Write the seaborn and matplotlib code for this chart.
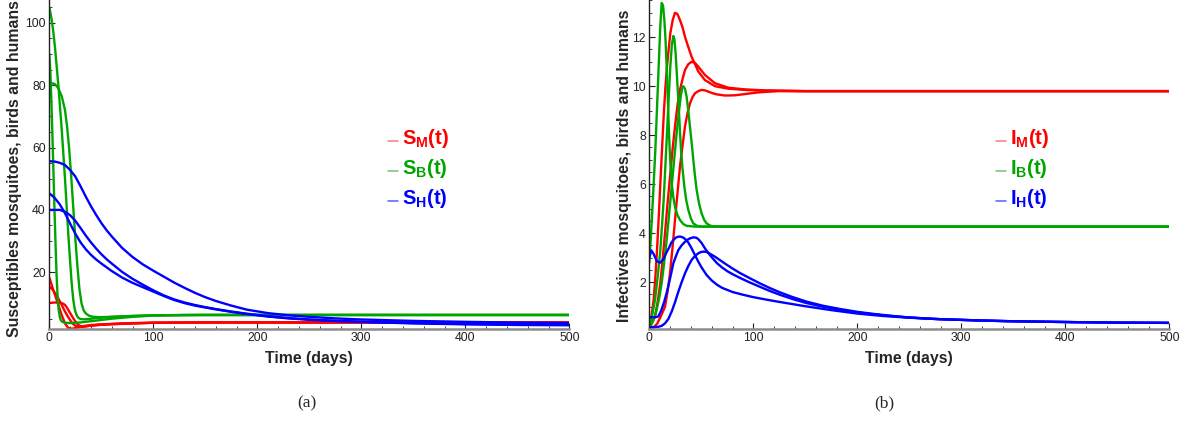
import matplotlib
matplotlib.use("Agg")
import matplotlib.pyplot as plt
import seaborn as sns
import pandas as pd
from matplotlib.ticker import MultipleLocator

# ---------------- Panel (a): susceptibles ----------------
SM1_t = [0, 2.3, 5.5, 8.7, 11.9, 15.1, 18.3, 21.5, 24.7, 28, 31.1, 35, 40.7, 50, 60, 70, 80, 100, 120, 150, 200, 300, 400, 500]
SM1_y = [18.3, 15.9, 12.7, 9.5, 6.3, 3.6, 2.1, 1.9, 2.05, 2.35, 2.6, 2.85, 3.1, 3.3, 3.45, 3.6, 3.7, 3.8, 3.85, 3.9, 3.9, 3.9, 3.9, 3.9]
SM2_t = [0, 3, 5.5, 8, 10.3, 12.7, 15.1, 17.5, 19.9, 22.3, 24.7, 27.9, 31, 34.3, 40, 47.1, 60, 72.8, 85, 100, 120, 150, 500]
SM2_y = [15.4, 14.5, 13.3, 12.0, 10.6, 9.0, 7.4, 6.0, 4.7, 3.6, 2.9, 2.45, 2.45, 2.6, 2.85, 3.1, 3.35, 3.5, 3.65, 3.8, 3.85, 3.9, 3.9]
SM3_t = [0, 3, 5.5, 8.7, 11.9, 13.5, 15.1, 16.7, 18.3, 19.9, 21.5, 23.1, 24.7, 26.3, 27.9, 31.1, 34.3, 37.5, 47.1, 60, 72.8, 85, 100, 120, 150, 500]
SM3_y = [10.1, 10.25, 10.3, 10.25, 10.1, 9.9, 9.5, 8.8, 7.9, 7.0, 6.1, 5.2, 4.4, 3.7, 3.1, 2.6, 2.65, 2.8, 3.1, 3.35, 3.5, 3.65, 3.8, 3.85, 3.9, 3.9]

SB1_t = [0, 2.3, 3.9, 5.5, 7.1, 8.7, 10.3, 11.9, 13.5, 15.1, 16.7, 18.3, 19.9, 21.5, 23.1, 24.7,
         26.3, 27.9, 30, 33, 38, 45, 60, 80, 100, 150, 500]
SB1_y = [105, 101, 97, 92, 86, 80, 73, 66, 58, 50, 41, 32, 24, 16.5, 11, 7.8,
         6.2, 5.4, 5.0, 4.9, 5.0, 5.3, 5.7, 6.0, 6.2, 6.3, 6.3]
SB2_t = [0, 1, 2, 3, 4, 5, 6, 7, 8, 9, 10, 11, 12.5, 15, 20, 30, 45, 60, 80, 100, 130, 500]
SB2_y = [90, 84, 75, 64, 52, 40, 29, 19, 12, 8, 5.8, 4.7, 4.1, 3.8, 3.7, 3.9, 4.5, 5.1, 5.7, 6.1, 6.3, 6.3]
SB3_t = [0, 3, 5.5, 8.7, 11.9, 15.1, 17, 19, 21, 23, 25, 27, 29, 31, 33, 35, 38, 42, 50, 70, 100, 150, 500]
SB3_y = [80.6, 80.6, 80.3, 79, 76.5, 72, 67, 60, 51, 41, 31, 22, 14.5, 10, 7.8, 6.8, 6.1, 5.7, 5.6, 5.8, 6.2, 6.3, 6.3]

SH1_t = [0, 5, 10, 15, 20, 25, 30, 35, 40, 45, 50, 55, 60, 70, 80, 90, 100, 110, 120, 130, 140, 150,
         160, 175, 190, 210, 230, 250, 275, 300, 350, 400, 450, 500]
SH1_y = [55.6, 55.5, 55.1, 54.4, 52.8, 50.7, 47.6, 44.3, 41.2, 38.4, 35.8, 33.5, 31.5, 27.8, 24.9, 22.5,
         20.5, 18.6, 16.7, 15.0, 13.4, 12.0, 10.8, 9.3, 8.0, 6.9, 6.2, 5.7, 5.2, 4.85, 4.4, 4.1, 3.85, 3.7]
SH2_t = [0, 5, 10, 15, 20, 25, 30, 35, 40, 45, 50, 55, 60, 70, 80, 90, 100, 110, 120, 130, 140, 150,
         160, 175, 190, 210, 230, 250, 275, 300, 350, 400, 450, 500]
SH2_y = [45.3, 43.9, 41.8, 39.0, 35.6, 32.4, 29.6, 27.4, 25.6, 24.1, 22.8, 21.6, 20.4, 18.3, 16.6, 15.2,
         13.8, 12.4, 11.1, 10.1, 9.3, 8.7, 8.1, 7.3, 6.6, 5.8, 5.2, 4.75, 4.35, 4.05, 3.6, 3.3, 3.1, 3.0]
SH3_t = [0, 5, 10, 15, 20, 25, 30, 35, 40, 45, 50, 55, 60, 70, 80, 90, 100, 110, 120, 130, 140, 150,
         160, 175, 190, 210, 230, 250, 275, 300, 350, 400, 450, 500]
SH3_y = [40.0, 40.0, 40.0, 39.4, 38.3, 36.5, 34.2, 31.8, 29.6, 27.6, 25.8, 24.2, 22.8, 20.1, 17.9, 16.0,
         14.2, 12.6, 11.3, 10.3, 9.5, 8.8, 8.2, 7.4, 6.7, 5.9, 5.3, 4.85, 4.45, 4.15, 3.7, 3.4, 3.25, 3.2]

# ---------------- Panel (b): infectives ----------------
IM1_t = [0, 2, 4.2, 5.8, 7.4, 9, 10.6, 12.2, 13.8, 15.4, 17, 18.6, 20.2, 22.5, 24.7, 27, 29.5, 32,
         34.3, 37.5, 40.7, 44, 47.1, 53.5, 63.2, 76, 92, 111, 150, 500]
IM1_y = [0.12, 0.6, 1.28, 2.2, 3.3, 4.6, 6.0, 7.4, 8.76, 9.9, 10.8, 11.5, 12.16, 12.7, 13.0, 12.95,
         12.7, 12.4, 12.02, 11.6, 11.2, 10.9, 10.6, 10.25, 10.0, 9.9, 9.85, 9.82, 9.8, 9.8]
IM2_t = [0, 5.5, 8, 10.6, 13, 15.1, 17.5, 19.9, 22.3, 24.7, 27, 29.5, 32, 34.3, 37.5, 40.7, 44, 47.1,
         53.5, 63.2, 76, 92, 111, 150, 500]
IM2_y = [0.1, 0.6, 1.2, 1.96, 3.0, 4.0, 5.2, 6.3, 7.4, 8.35, 9.2, 9.85, 10.3, 10.66, 10.9, 11.0, 10.95,
         10.8, 10.46, 10.12, 9.94, 9.87, 9.83, 9.8, 9.8]
IM3_t = [0, 4, 7.8, 11, 15.1, 17.5, 19.9, 22.3, 24.7, 27, 29.5, 32, 34.3, 36.7, 39.1, 41.5, 43.9, 47,
         50.3, 53.5, 56.7, 60.6, 64.6, 72.8, 82.4, 92, 105, 124, 160, 500]
IM3_y = [0.1, 0.15, 0.32, 0.6, 1.0, 1.6, 2.36, 3.4, 4.54, 5.6, 6.72, 7.6, 8.35, 8.9, 9.3, 9.55, 9.71,
         9.8, 9.85, 9.83, 9.78, 9.72, 9.67, 9.62, 9.63, 9.68, 9.75, 9.8, 9.8, 9.8]

IB1_t = [0, 1.3, 2.6, 4.2, 5.8, 7.4, 9.0, 10.5, 11.9, 13.2, 14.5, 15.6, 16.7, 17.8, 18.9, 20.2, 21.5,
         23, 24.7, 27, 29.5, 32.5, 35.9, 43.9, 60, 500]
IB1_y = [2.8, 3.7, 4.7, 6.0, 7.4, 9.1, 10.8, 12.4, 13.4, 13.3, 12.7, 11.9, 10.8, 9.5, 8.1, 6.9, 6.04,
         5.5, 5.08, 4.75, 4.54, 4.38, 4.3, 4.27, 4.27, 4.27]
IB2_t = [0, 3, 5.5, 8, 10.6, 12.2, 13.8, 15.4, 17, 18.6, 20.2, 21.7, 23.1, 24.2, 25.3, 26.6, 27.9,
         29.2, 30.5, 32, 33.7, 35.5, 37.5, 40, 42.3, 46, 50.3, 66, 500]
IB2_y = [0.3, 0.7, 1.28, 2.2, 3.3, 4.3, 5.36, 6.7, 8.08, 9.5, 10.8, 11.7, 12.05, 11.9, 11.34, 10.4,
         9.44, 8.4, 7.4, 6.6, 5.9, 5.35, 4.95, 4.6, 4.4, 4.3, 4.27, 4.27, 4.27]
IB3_t = [0, 4, 7.1, 9.5, 11.9, 14.3, 16.7, 19.1, 21.5, 23.9, 26.3, 28.3, 30.2, 31.5, 32.7, 34.3, 35.9,
         37.5, 39.1, 40.7, 42.3, 43.9, 45.5, 47.9, 50.3, 52.7, 55.1, 59, 63.2, 79.5, 500]
IB3_y = [0.12, 0.45, 0.87, 1.35, 1.96, 2.8, 3.72, 4.8, 5.9, 7.0, 8.08, 8.9, 9.57, 9.9, 10.0, 9.9, 9.57,
         9.0, 8.35, 7.7, 7.0, 6.35, 5.77, 5.2, 4.81, 4.55, 4.4, 4.3, 4.27, 4.27, 4.27]

IH1_t = [0, 1.9, 4.2, 7.4, 10.6, 13.8, 16.3, 18.9, 21, 23.1, 25.5, 27.9, 30.3, 32.7, 35.1, 37.5, 40.7,
         44, 47, 50, 55, 60, 65, 70, 80, 90, 100, 115, 130, 150, 175, 200, 225, 250, 280, 320, 360,
         410, 460, 500]
IH1_y = [3.0, 3.3, 3.15, 2.85, 2.8, 2.95, 3.2, 3.4, 3.6, 3.72, 3.82, 3.86, 3.86, 3.82, 3.74, 3.62, 3.38,
         3.1, 2.85, 2.62, 2.3, 2.07, 1.9, 1.77, 1.6, 1.49, 1.39, 1.27, 1.16, 1.02, 0.86, 0.72, 0.62,
         0.55, 0.49, 0.43, 0.4, 0.37, 0.35, 0.34]
IH2_t = [0, 5.5, 8.7, 11.5, 14.3, 16.6, 18.9, 21, 23.1, 25.5, 27.9, 31, 34.3, 37, 39.1, 42.3, 45, 47.1,
         50.3, 53.5, 56.7, 60, 65, 70, 75, 80, 87, 95, 106, 116, 126, 138, 151, 167, 183, 200, 215,
         230, 247, 265, 280, 310, 344, 375, 408, 450, 500]
IH2_y = [0.57, 0.57, 0.6, 0.85, 1.2, 1.55, 1.95, 2.35, 2.77, 3.05, 3.31, 3.5, 3.65, 3.74, 3.79, 3.83,
         3.82, 3.76, 3.6, 3.38, 3.2, 3.02, 2.78, 2.6, 2.45, 2.33, 2.18, 2.02, 1.82, 1.64, 1.48, 1.31,
         1.15, 1.0, 0.88, 0.77, 0.69, 0.63, 0.57, 0.52, 0.49, 0.45, 0.41, 0.39, 0.37, 0.35, 0.34]
IH3_t = [0, 8.7, 12, 15.1, 18.3, 21.5, 24.7, 27.9, 31.1, 34.3, 37.5, 40.7, 43.9, 47.1, 49.5, 52, 54.5,
         56.7, 60, 63.2, 68, 72.8, 80, 87, 95, 106, 116, 126, 138, 151, 167, 183, 200, 215, 230, 247,
         265, 280, 310, 344, 375, 408, 450, 500]
IH3_y = [0.15, 0.18, 0.22, 0.32, 0.5, 0.8, 1.18, 1.61, 2.0, 2.36, 2.66, 2.91, 3.07, 3.18, 3.23, 3.25,
         3.24, 3.2, 3.12, 3.04, 2.9, 2.76, 2.56, 2.38, 2.2, 1.96, 1.76, 1.58, 1.39, 1.21, 1.04, 0.91,
         0.79, 0.71, 0.64, 0.57, 0.52, 0.49, 0.45, 0.41, 0.39, 0.37, 0.35, 0.34]

X_TICKS = [0, 100, 200, 300, 400, 500]
LEFT_Y_TICKS = [20, 40, 60, 80, 100]
RIGHT_Y_TICKS = [2, 4, 6, 8, 10, 12]
LEFT_LEGEND = [r"$\mathbf{S_M(t)}$", r"$\mathbf{S_B(t)}$", r"$\mathbf{S_H(t)}$"]
RIGHT_LEGEND = [r"$\mathbf{I_M(t)}$", r"$\mathbf{I_B(t)}$", r"$\mathbf{I_H(t)}$"]

# ---------------- Styling ----------------
sns.set_style("white")
plt.rcParams["font.family"] = ["Liberation Sans", "DejaVu Sans"]
plt.rcParams["mathtext.fontset"] = "custom"
plt.rcParams["mathtext.bf"] = "Liberation Sans:bold"
plt.rcParams["mathtext.rm"] = "Liberation Sans"
plt.rcParams["mathtext.it"] = "Liberation Sans:italic"

RED, GREEN, BLUE = "#ff0000", "#00a600", "#0000ff"
LIGHT = ["#ff7a7a", "#74c474", "#5a5aff"]


def long_frame(curves):
    rows = []
    for name, (tt, yy) in curves.items():
        for a, b in zip(tt, yy):
            rows.append((name, a, b))
    return pd.DataFrame(rows, columns=["curve", "t", "value"])


left_curves = {"SM1": (SM1_t, SM1_y), "SM2": (SM2_t, SM2_y), "SM3": (SM3_t, SM3_y),
               "SB1": (SB1_t, SB1_y), "SB2": (SB2_t, SB2_y), "SB3": (SB3_t, SB3_y),
               "SH1": (SH1_t, SH1_y), "SH2": (SH2_t, SH2_y), "SH3": (SH3_t, SH3_y)}
right_curves = {"IM1": (IM1_t, IM1_y), "IM2": (IM2_t, IM2_y), "IM3": (IM3_t, IM3_y),
                "IB1": (IB1_t, IB1_y), "IB2": (IB2_t, IB2_y), "IB3": (IB3_t, IB3_y),
                "IH1": (IH1_t, IH1_y), "IH2": (IH2_t, IH2_y), "IH3": (IH3_t, IH3_y)}

fig = plt.figure(figsize=(12, 4.21), dpi=100)
W, H = 1200.0, 421.0
AX_BOT = 329.0
axL = fig.add_axes([49.3 / W, (H - AX_BOT) / H, 520 / W, AX_BOT / H])
axR = fig.add_axes([649.3 / W, (H - AX_BOT) / H, 520 / W, AX_BOT / H])


def draw_panel(ax, x0px, curves, ylim, yticks, yminor, legend_labels, ylabel,
               ylab_x, ylab_bottom, leg_xpx):
    df = long_frame(curves)
    names = list(curves.keys())
    pal = {n: (RED if n[1] == "M" else (GREEN if n[1] == "B" else BLUE)) for n in names}
    sns.lineplot(data=df, x="t", y="value", hue="curve", hue_order=names, palette=pal,
                 estimator=None, sort=False, legend=False, lw=1.7, ax=ax)
    ax.set_xlim(0, 500)
    ax.set_ylim(*ylim)
    ax.set_xticks(X_TICKS)
    ax.set_yticks(yticks)
    ax.xaxis.set_minor_locator(MultipleLocator(20))
    ax.yaxis.set_minor_locator(MultipleLocator(yminor))
    for s in ["top", "right"]:
        ax.spines[s].set_visible(False)
    ax.spines["bottom"].set_color("#8c8c8c")
    ax.spines["bottom"].set_linewidth(1.8)
    ax.spines["left"].set_color("#222222")
    ax.spines["left"].set_linewidth(1.0)
    ax.tick_params(which="both", direction="in", colors="#222222", labelsize=8.8, pad=2.5,
                   bottom=True, left=True)
    ax.tick_params(which="major", length=4, width=0.8)
    ax.tick_params(which="minor", length=2.3, width=0.6)
    ax.set_xlabel("Time (days)", fontsize=11.4, fontweight="bold")
    ax.xaxis.set_label_coords(0.5, -(358 - AX_BOT) / AX_BOT)
    ax.xaxis.label.set_verticalalignment("center")
    ax.set_ylabel(ylabel, fontsize=11.4, fontweight="bold")
    lab = ax.yaxis.label
    lab.set_rotation_mode("default")
    lab.set_ha("center")
    lab.set_va("bottom")
    ax.yaxis.set_label_coords((ylab_x - x0px) / 520, (AX_BOT - ylab_bottom) / AX_BOT)
    leg_x = (leg_xpx - x0px) / 520
    for i, (txt, c, lc) in enumerate(zip(legend_labels, [RED, GREEN, BLUE], LIGHT)):
        py = 138 + 30 * i
        yf = (AX_BOT - py) / AX_BOT
        ax.plot([leg_x - 14 / 520, leg_x - 4 / 520], [yf - 3 / AX_BOT, yf - 3 / AX_BOT],
                transform=ax.transAxes, color=lc, lw=1.1, clip_on=False)
        ax.text(leg_x, yf, txt, transform=ax.transAxes, color=c, fontsize=14.5,
                ha="left", va="center")


draw_panel(axL, 49.3, left_curves, (1.8, 107.3), LEFT_Y_TICKS, 5, LEFT_LEGEND,
           "Susceptibles mosquitoes, birds and humans", 15, 337, 402)
draw_panel(axR, 649.3, right_curves, (0.09, 13.52), RIGHT_Y_TICKS, 0.5, RIGHT_LEGEND,
           "Infectives mosquitoes, birds and humans", 624, 322, 1010)

fig.text(307 / W, 1 - 403 / H, "(a)", family="Liberation Serif", fontsize=12.5, ha="center", va="center")
fig.text(884 / W, 1 - 403 / H, "(b)", family="Liberation Serif", fontsize=12.5, ha="center", va="center")

fig.savefig("out.png", dpi=100)
